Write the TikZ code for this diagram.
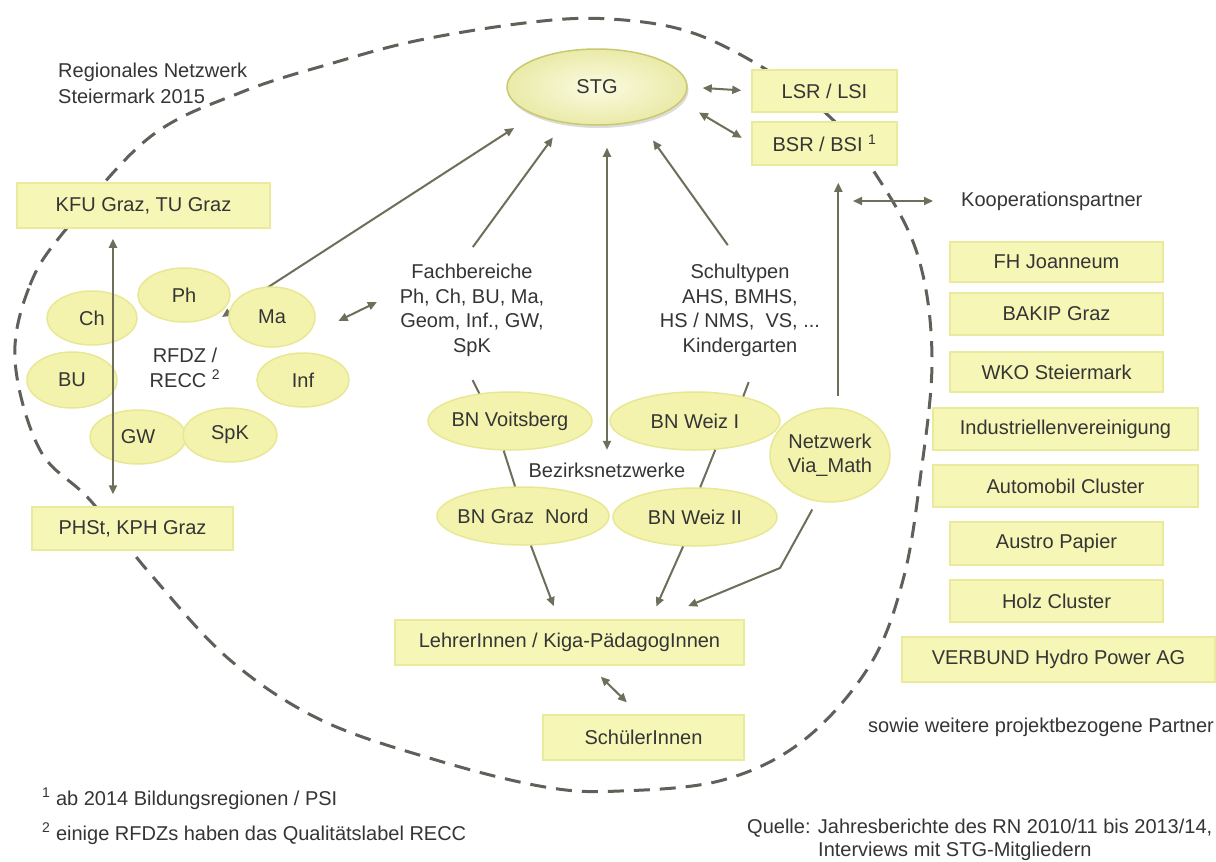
\documentclass[tikz,border=0pt]{standalone}
\usepackage{fontspec}
\setmainfont{Liberation Sans}
\usetikzlibrary{shapes.geometric,arrows.meta,shadows,calc}

\definecolor{ink}{HTML}{353535}
\definecolor{boxfill}{HTML}{F6F6B6}
\definecolor{boxedge}{HTML}{EAEA9C}
\definecolor{ellfill}{HTML}{F3F3AE}
\definecolor{elledge}{HTML}{E8E894}
\definecolor{stgin}{HTML}{FBFBE2}
\definecolor{stgout}{HTML}{EAEAA8}
\definecolor{stgrim}{HTML}{C9C970}
\definecolor{linec}{HTML}{6E6E5A}
\definecolor{dashc}{HTML}{60605A}

\pgfdeclarelayer{paper}
\pgfdeclarelayer{under}
\pgfsetlayers{paper,under,main}

\begin{document}
\begin{tikzpicture}[x=1pt,y=-1pt,
  font=\fontsize{20}{24.5}\selectfont, text=ink,
  card/.style={rectangle, fill=boxfill, draw=boxedge, line width=1.5pt, inner sep=0pt},
  blob/.style={ellipse, fill=ellfill, draw=elledge, line width=1.5pt, inner ysep=0pt, inner xsep=-12pt, align=center},
  stgball/.style={ellipse, inner sep=0pt, inner color=stgin, outer color=stgout, draw=stgrim, line width=1.5pt,
    drop shadow={shadow xshift=1.5pt, shadow yshift=-3pt, fill=black!45, opacity=.3}},
  lbl/.style={inner sep=2pt, align=center},
  conn/.style={draw=linec, line width=2pt},
  arr/.style={conn, -{Triangle[length=9pt,width=8pt]}},
  dbl/.style={conn, {Triangle[length=9pt,width=8pt]}-{Triangle[length=9pt,width=8pt]}},
  regionline/.style={draw=dashc, line width=3pt, dash pattern=on 16pt off 10pt}
]

\begin{pgfonlayer}{paper}
  \fill[white] (0,0) rectangle (1216,862);
\end{pgfonlayer}
\useasboundingbox (0,0) rectangle (1216,862);

% dashed outline of the regional network
\begin{pgfonlayer}{under}
\draw[regionline] plot[smooth cycle, tension=0.6] coordinates {
  (15,360) (30,285) (67,228) (150,137) (242,92) (333,63) (420,40) (533,22)
  (610,19) (690,32) (767,70) (830,117) (873,170) (917,253) (932,357)
  (920,480) (903,580) (870,665) (804,740) (723,780) (620,791) (545,787)
  (436,760) (321,720) (230,660) (153,577) (90,500) (40,450)};
\end{pgfonlayer}

% centre and school authorities
\node[stgball, minimum width=180pt, minimum height=76pt] (STG) at (597,87) {STG};
\node[card, minimum width=145pt, minimum height=42pt] (LSR) at (824.5,91) {LSR / LSI};
\node[card, minimum width=145pt, minimum height=43pt] (BSR) at (824.5,143.5) {BSR / BSI \textsuperscript{1}};

% left column
\node[lbl, align=left, anchor=west] (title) at (56,83) {Regionales Netzwerk\\[1.5pt]Steiermark 2015};
\node[card, minimum width=253pt, minimum height=45pt] (KFU) at (143.5,205.5) {KFU Graz, TU Graz};
\node[card, minimum width=201pt, minimum height=43pt] (PHSt) at (132.5,528.5) {PHSt, KPH Graz};

% RFDZ cluster
\node[blob, minimum width=90pt, minimum height=54pt] (Ch) at (92,318) {Ch};
\node[blob, minimum width=92pt, minimum height=54pt] (Ph) at (184,295) {Ph};
\node[blob, minimum width=86pt, minimum height=60pt] (Ma) at (272,317) {Ma};
\node[blob, minimum width=90pt, minimum height=56pt] (BU) at (72,380) {BU};
\node[blob, minimum width=92pt, minimum height=54pt] (Inf) at (303,380) {Inf};
\node[blob, minimum width=96pt, minimum height=54pt] (GW) at (138,437) {GW};
\node[blob, minimum width=94pt, minimum height=54pt] (SpK) at (230,435) {SpK};
\node[lbl] (rfdz) at (185,368) {RFDZ /\\RECC \textsuperscript{2}};

% subject areas, school types, district networks
\node[lbl] (fach) at (472,310.5) {Fachbereiche\\Ph, Ch, BU, Ma,\\Geom, Inf., GW,\\SpK};
\node[lbl] (schul) at (740,310.5) {Schultypen\\AHS, BMHS,\\HS / NMS,\ \ VS, ...\\Kindergarten};
\node[blob, minimum width=164pt, minimum height=58pt] (BNV) at (510,421) {BN Voitsberg};
\node[blob, minimum width=170pt, minimum height=58pt] (BNW1) at (695,421) {BN Weiz I};
\node[blob, minimum width=120pt, minimum height=94pt] (via) at (830,455) {Netzwerk\\Via\_Math};
\node[lbl] (bez) at (607,470) {Bezirksnetzwerke};
\node[blob, minimum width=172pt, minimum height=58pt] (BGN) at (523,516) {BN Graz\ \ Nord};
\node[blob, minimum width=164pt, minimum height=58pt] (BNW2) at (695,517) {BN Weiz II};

% teachers and pupils
\node[card, minimum width=349pt, minimum height=45pt] (lehr) at (569.5,642.5) {LehrerInnen / Kiga-PädagogInnen};
\node[card, minimum width=201pt, minimum height=45pt] (schu) at (643.5,737.5) {SchülerInnen};
\coordinate (viaBend) at (780,568);

% cooperation partners
\node[lbl, anchor=west] (koop) at (959,201) {Kooperationspartner};
\coordinate (koopL) at (853,201);
\node[card, minimum width=213pt, minimum height=40pt] (fh) at (1056.5,262) {FH Joanneum};
\node[card, minimum width=213pt, minimum height=42pt] (bakip) at (1056.5,314) {BAKIP Graz};
\node[card, minimum width=213pt, minimum height=40pt] (wko) at (1056.5,372) {WKO Steiermark};
\node[card, minimum width=265pt, minimum height=42pt] (iv) at (1065.5,429) {Industriellenvereinigung};
\node[card, minimum width=265pt, minimum height=42pt] (auto) at (1065.5,486) {Automobil Cluster};
\node[card, minimum width=213pt, minimum height=43pt] (papier) at (1056.5,543.5) {Austro Papier};
\node[card, minimum width=213pt, minimum height=42pt] (holz) at (1056.5,601) {Holz Cluster};
\node[card, minimum width=313pt, minimum height=45pt] (verbund) at (1058.5,659.5) {VERBUND Hydro Power AG};
\node[lbl, anchor=west] (more) at (866,727) {sowie weitere projektbezogene Partner};

% footnotes and source
\node[lbl, anchor=base west] (fn1) at (40,805) {\textsuperscript{1} ab 2014 Bildungsregionen / PSI};
\node[lbl, anchor=base west] (fn2) at (40,840) {\textsuperscript{2} einige RFDZs haben das Qualitätslabel RECC};
\node[lbl, anchor=base west] (src1) at (745,833) {Quelle: Jahresberichte des RN 2010/11 bis 2013/14,};
\node[lbl, anchor=base west] (src2) at (816,856) {Interviews mit STG-Mitgliedern};

% connectors
\coordinate (hub) at (222,317);
\begin{pgfonlayer}{under}
\draw[dbl, shorten >=24pt] (hub) -- (STG.204);
\end{pgfonlayer}
\draw[arr, shorten <=18.8pt, shorten >=18pt] (fach.102) -- (STG.227);
\draw[dbl, shorten <=10.7pt, shorten >=22pt] (bez.north) -- (bez.north |- STG.south);
\draw[arr, shorten <=21pt, shorten >=23.5pt] (schul.north) -- (STG.321);
\draw[dbl, shorten <=15pt, shorten >=10pt] (STG.east) -- (LSR.west);
\draw[dbl, shorten <=21pt, shorten >=11pt] (STG.-10) -- (BSR.west);
\draw[arr, shorten <=11.5pt, shorten >=17pt] (via.80) -- (via.80 |- BSR.south);
\draw[dbl, shorten >=26pt] (koopL) -- (koop.west);
\draw[dbl, shorten <=37.7pt, shorten >=23pt] (Ma.-32) -- (fach.166);
\draw[conn, shorten <=24pt] (fach.258) -- (BNV.138);
\draw[conn, shorten <=25pt] (schul.-70) -- (BNW1.27);
\draw[conn] (BNV.258) -- (BGN.105);
\draw[conn] (BNW1.305) -- (BNW2.80);
\draw[arr, shorten >=14pt] (BGN.285) -- (lehr.115);
\draw[arr, shorten >=14pt] (BNW2.248) -- (lehr.16);
\draw[arr, shorten <=9pt, shorten >=34.5pt] (via.254) -- (viaBend) -- (lehr.15);
\draw[dbl, shorten <=15.6pt, shorten >=17pt] (lehr.-49) -- (schu.101);
\coordinate (kfuTip) at ($(KFU.south west)!0.38!(KFU.south east)$);
\draw[dbl, shorten <=10pt, shorten >=12pt] (kfuTip) -- (kfuTip |- PHSt.north);

\end{tikzpicture}
\end{document}
